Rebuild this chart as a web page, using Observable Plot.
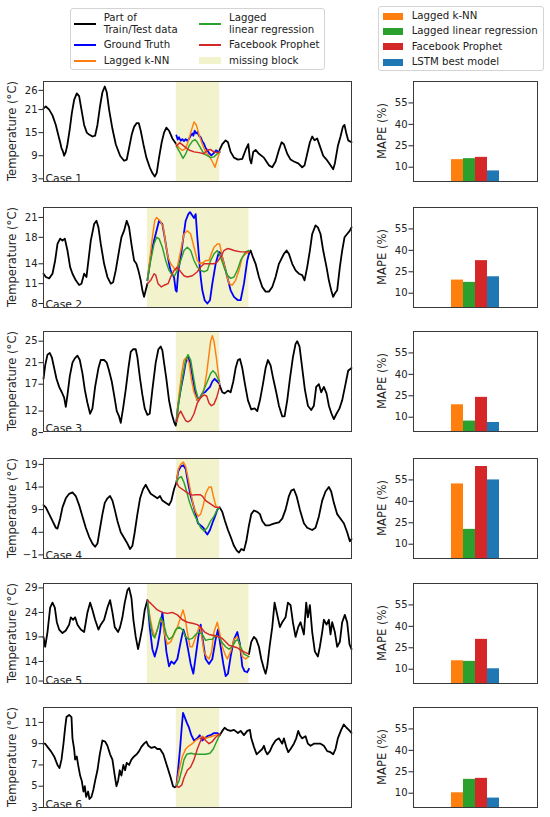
<!DOCTYPE html>
<html>
<head>
<meta charset="utf-8">
<script src="https://cdn.jsdelivr.net/npm/d3@7"></script>
<script src="https://cdn.jsdelivr.net/npm/@observablehq/plot@0.6"></script>
<style>
  html, body { margin: 0; padding: 0; background: #fff; }
  #root { position: relative; width: 550px; height: 817px; font-family: "DejaVu Sans", sans-serif; color: #222; overflow: hidden; }
  .legend { position: absolute; border: 1px solid #d4d4d4; border-radius: 3px; background: #fff; box-sizing: border-box; }
  .entry { position: absolute; font-size: 10.2px; line-height: 12.3px; white-space: pre; color: #222; }
  .sw { position: absolute; }
  .ylab { position: absolute; font-size: 11.6px; white-space: nowrap; color: #222; transform: translate(-50%, -50%) rotate(-90deg); line-height: 1; }
</style>
</head>
<body>
<div id="root"></div>
<script>
// ---------- categories / labels ----------
const models = ["Lagged k-NN", "Lagged linear regression", "Facebook Prophet", "LSTM best model"];
const barColors = ["#ff7f0e", "#2ca02c", "#d62728", "#1f77b4"];
const lineLabels = ["Part of\nTrain/Test data", "Ground Truth", "Lagged k-NN", "Lagged\nlinear regression", "Facebook Prophet", "missing block"];
const lineColors = ["#000000", "#0000ff", "#ff7f0e", "#2ca02c", "#d62728", "#f2f2cc"];
const caseNames = ["Case 1", "Case 2", "Case 3", "Case 4", "Case 5", "Case 6"];
const tempLabel = "Temperature (°C)";
const mapeLabel = "MAPE (%)";

// ---------- MAPE (%) per case: k-NN, linear, Prophet, LSTM ----------
const case1Mape = [15.3, 16.0, 16.9, 7.4];
const case2Mape = [19.2, 17.6, 32.8, 21.5];
const case3Mape = [18.7, 7.3, 23.9, 6.3];
const case4Mape = [52.2, 20.4, 64.4, 55.0];
const case5Mape = [15.9, 15.5, 30.9, 10.3];
const case6Mape = [10.3, 19.7, 20.4, 6.6];
const mapeTicks = [10, 25, 40, 55];
const mapeDomain = [0, 70];

// ---------- temperature axes ----------
const case1Ticks = [3, 9, 15, 21, 26];   const case1Domain = [2.3, 28.3];
const case2Ticks = [8, 11, 14, 18, 21];  const case2Domain = [7.4, 22.5];
const case3Ticks = [8, 12, 17, 21, 25];  const case3Domain = [8.2, 26.8];
const case4Ticks = [-1, 4, 9, 14, 19];   const case4Domain = [-1.8, 20.3];
const case5Ticks = [10, 14, 19, 24, 29]; const case5Domain = [9.5, 29.9];
const case6Ticks = [3, 5, 7, 9, 11];     const case6Domain = [3.0, 12.4];

// ---------- missing blocks (time steps) ----------
const case1Block = [399, 529];
const case2Block = [312, 617];
const case3Block = [399, 529];
const case4Block = [399, 529];
const case5Block = [312, 617];
const case6Block = [399, 529];

// ---------- Case 1 ----------
const case1Before = [[0,21.3],[7,21.8],[17,21.0],[27,19.5],[37,17.0],[44,14.5],[50,12.5],[54,11.0],[58,10.2],[62,9.0],[67,10.0],[72,12.0],[79,16.0],[85,20.0],[92,23.5],[100,25.2],[107,24.5],[114,21.0],[122,17.0],[130,15.0],[137,14.5],[147,14.0],[155,14.2],[162,17.0],[170,22.0],[177,25.5],[184,27.0],[190,25.5],[197,21.0],[207,16.0],[217,12.0],[230,9.0],[242,7.7],[250,8.0],[257,11.0],[265,14.5],[272,16.5],[280,17.5],[286,17.5],[292,15.5],[300,12.0],[309,8.5],[319,6.0],[327,4.5],[334,3.6],[340,4.5],[347,8.5],[355,12.5],[362,15.0],[369,16.3],[377,15.5],[387,13.5],[399,12.0]];
const case1After = [[529,10.5],[537,12.0],[547,13.0],[554,12.5],[562,10.0],[572,8.5],[584,8.0],[597,8.2],[607,10.5],[615,12.0],[620,8.0],[624,7.0],[630,10.0],[637,10.5],[647,9.5],[662,8.5],[677,6.5],[687,6.0],[697,7.5],[707,10.5],[715,12.5],[722,12.0],[732,9.5],[742,8.0],[752,7.5],[765,7.0],[777,6.0],[784,6.5],[792,9.5],[800,12.5],[807,14.0],[814,13.0],[822,13.5],[830,11.5],[840,9.0],[850,8.0],[862,6.5],[870,5.5],[875,7.0],[884,11.5],[892,14.0],[899,16.5],[904,17.0],[909,15.0],[915,13.0],[925,12.5]];
const case1Truth = [[399,14.3],[403,13.2],[407,13.8],[412,12.9],[417,13.3],[422,12.8],[427,13.3],[432,12.9],[437,13.4],[442,14.2],[447,14.8],[450,14.2],[454,15.5],[458,14.8],[462,15.1],[467,14.2],[472,13.8],[477,12.8],[482,12.1],[487,11.0],[492,10.4],[498,9.6],[504,9.1],[509,9.5],[514,9.9],[518,10.4],[522,10.2],[529,10.0]];
const case1Knn = [[399,12.1],[408,11.0],[417,10.4],[425,10.8],[432,12.0],[442,15.0],[452,17.8],[459,17.0],[467,14.5],[477,12.0],[487,10.0],[497,9.0],[507,7.5],[515,6.0],[522,8.0],[529,10.0]];
const case1Lin = [[399,11.5],[412,9.5],[419,8.3],[427,9.5],[437,11.5],[447,12.8],[455,13.2],[462,12.5],[472,11.0],[482,9.5],[492,9.0],[502,8.5],[512,8.7],[522,9.5],[529,10.0]];
const case1Prophet = [[399,11.5],[409,12.4],[422,11.5],[437,10.5],[452,10.0],[467,9.8],[482,9.5],[492,10.5],[502,10.6],[512,10.0],[522,9.8],[529,10.0]];

// ---------- Case 2 ----------
const case2Before = [[0,12.5],[7,12.0],[17,11.8],[27,12.5],[35,14.5],[42,17.0],[50,17.8],[57,17.5],[64,17.8],[72,16.0],[80,13.5],[87,12.5],[97,11.5],[107,10.8],[114,11.0],[122,12.5],[129,12.0],[135,14.5],[142,17.5],[152,20.0],[159,20.5],[165,19.5],[172,17.0],[182,14.0],[192,12.0],[202,11.0],[209,11.2],[217,13.0],[227,16.0],[234,18.0],[242,19.0],[250,20.5],[257,19.5],[264,17.0],[272,14.5],[279,14.0],[285,13.0],[292,11.5],[297,10.0],[302,9.0],[307,10.0],[312,11.0]];
const case2After = [[617,15.5],[622,16.0],[629,15.0],[637,14.0],[647,12.0],[657,10.5],[667,9.8],[677,9.8],[687,10.5],[697,12.0],[707,14.0],[722,15.5],[730,16.0],[737,15.5],[747,14.0],[757,13.0],[767,12.5],[777,12.3],[784,11.5],[792,13.5],[800,16.0],[807,18.5],[817,19.8],[824,19.5],[832,18.5],[840,16.0],[850,13.5],[857,11.5],[864,10.0],[870,9.0],[875,9.5],[882,10.0],[890,13.5],[897,16.0],[904,18.0],[912,18.5],[920,19.0],[925,19.5]];
const case2Truth = [[312,11.5],[319,14.0],[327,16.5],[337,18.5],[347,20.5],[357,20.0],[364,18.0],[372,15.5],[379,13.5],[385,12.5],[392,12.0],[397,10.0],[400,9.8],[405,13.0],[412,15.0],[420,18.0],[427,20.5],[435,21.5],[440,21.8],[447,21.3],[452,20.9],[457,21.5],[462,18.0],[467,15.0],[472,12.0],[477,10.0],[484,8.5],[492,8.0],[500,8.5],[507,11.0],[517,14.0],[527,15.8],[534,15.5],[542,14.0],[552,12.0],[562,10.0],[572,9.0],[584,8.5],[592,8.5],[602,11.0],[612,14.5],[617,15.5]];
const case2Knn = [[312,11.5],[320,15.0],[327,18.0],[334,20.5],[340,21.0],[350,20.5],[360,19.5],[367,17.0],[374,15.0],[382,14.0],[390,13.5],[397,13.0],[402,13.5],[412,16.0],[422,18.5],[432,19.0],[442,18.5],[452,16.5],[462,14.5],[470,14.0],[480,14.2],[487,14.5],[497,14.5],[504,15.5],[512,16.5],[522,17.0],[529,17.0],[537,15.0],[547,13.0],[557,11.0],[567,10.8],[577,11.5],[587,13.0],[597,15.0],[607,15.5],[617,15.8]];
const case2Lin = [[312,11.5],[322,14.5],[332,17.0],[340,18.0],[347,17.8],[357,16.5],[367,14.5],[377,13.0],[387,12.3],[394,12.2],[402,13.0],[412,14.5],[422,16.0],[432,16.5],[442,16.0],[452,14.5],[462,13.5],[472,13.0],[482,12.8],[492,13.0],[502,14.5],[512,15.5],[522,16.0],[532,15.0],[542,13.5],[552,12.3],[562,11.8],[572,12.0],[582,13.0],[592,14.5],[607,15.8],[617,16.0]];
const case2Prophet = [[312,11.0],[322,11.5],[332,12.5],[337,12.3],[344,11.0],[354,10.5],[364,10.8],[374,11.0],[382,12.0],[392,13.0],[402,13.5],[412,12.8],[422,12.2],[432,12.0],[447,12.2],[462,12.8],[472,13.5],[482,14.0],[497,14.0],[512,14.0],[522,14.3],[532,15.0],[542,16.0],[552,16.3],[562,16.2],[572,16.0],[592,15.8],[617,15.8]];

// ---------- Case 3 ----------
const case3Before = [[0,18.0],[5,20.5],[12,22.5],[19,22.8],[25,22.0],[32,20.0],[39,18.0],[47,16.5],[55,15.5],[62,14.5],[67,12.8],[72,15.0],[79,18.5],[87,21.0],[94,21.8],[102,22.3],[109,21.5],[117,19.0],[124,16.0],[132,13.5],[140,11.5],[147,12.5],[155,16.5],[165,20.0],[172,21.5],[182,21.5],[190,21.0],[197,19.5],[205,17.5],[212,15.0],[220,12.0],[227,11.0],[232,9.8],[239,12.5],[247,16.0],[255,20.0],[262,23.0],[269,23.5],[277,23.5],[282,22.0],[290,18.0],[297,15.0],[304,12.5],[312,11.3],[319,11.5],[327,16.0],[337,21.0],[345,23.5],[352,24.0],[357,23.3],[362,21.0],[369,18.0],[377,14.0],[385,11.5],[392,10.0],[397,9.3],[399,10.0]];
const case3After = [[529,16.8],[537,15.5],[544,15.3],[554,15.8],[562,15.5],[570,17.5],[577,20.0],[584,21.5],[590,21.7],[597,20.0],[605,17.0],[614,14.0],[624,12.3],[634,12.5],[642,12.0],[650,14.0],[659,17.0],[667,20.0],[674,21.5],[682,20.5],[690,18.0],[699,15.5],[707,13.0],[717,11.0],[724,11.0],[732,14.0],[740,18.0],[749,22.0],[757,24.5],[762,25.0],[769,24.0],[777,20.0],[785,16.0],[794,13.0],[804,12.2],[812,13.0],[819,16.5],[827,17.0],[834,15.5],[842,16.5],[850,15.3],[857,13.0],[865,11.5],[872,10.5],[880,11.5],[889,12.5],[897,14.0],[907,17.0],[915,19.5],[925,20.0]];
const case3Truth = [[399,10.0],[404,13.0],[412,16.0],[420,18.5],[427,21.0],[434,22.0],[440,21.0],[447,18.5],[454,16.0],[462,14.0],[470,14.5],[477,15.3],[485,15.5],[492,16.0],[500,16.5],[507,17.5],[514,18.0],[522,17.5],[529,17.0]];
const case3Knn = [[399,10.0],[407,15.0],[415,19.0],[422,21.5],[430,22.0],[437,21.0],[444,18.0],[452,15.5],[462,14.0],[472,14.5],[482,16.0],[490,19.0],[497,22.5],[502,25.0],[507,26.0],[512,25.0],[519,22.0],[524,19.5],[529,17.0]];
const case3Lin = [[399,10.0],[407,14.0],[417,18.0],[427,21.5],[434,22.5],[442,21.5],[450,18.5],[457,16.0],[464,14.5],[472,14.5],[482,16.0],[492,17.5],[502,19.0],[509,19.5],[517,19.0],[524,18.0],[529,17.5]];
const case3Prophet = [[399,10.0],[407,11.5],[412,12.0],[420,11.0],[427,10.2],[434,10.0],[442,10.3],[452,11.5],[462,13.5],[472,14.5],[482,15.0],[490,14.8],[497,13.5],[504,13.0],[512,13.3],[520,14.5],[529,16.5]];

// ---------- Case 4 ----------
const case4Before = [[0,10.0],[7,9.5],[17,8.0],[27,6.5],[37,5.0],[42,4.8],[50,7.0],[57,9.5],[67,11.5],[77,12.5],[87,12.8],[97,12.0],[107,10.0],[117,7.5],[127,5.0],[137,3.0],[147,1.5],[155,0.8],[162,1.5],[170,5.0],[177,8.0],[184,10.5],[192,11.5],[200,12.0],[207,11.0],[214,9.0],[222,6.5],[232,4.0],[244,2.5],[252,1.5],[260,0.3],[267,1.0],[274,4.0],[282,8.0],[290,11.5],[299,13.5],[307,14.5],[314,13.5],[322,12.5],[332,12.0],[342,11.5],[350,12.0],[357,11.0],[367,10.5],[377,10.0],[384,11.0],[392,13.5],[399,15.0]];
const case4After = [[529,9.5],[537,8.5],[545,6.5],[554,4.5],[562,3.0],[572,1.0],[580,0.0],[587,-0.5],[594,0.3],[602,0.0],[609,2.0],[617,5.5],[624,8.0],[632,8.8],[642,8.5],[650,8.0],[657,6.5],[667,5.5],[677,5.5],[687,5.8],[697,6.0],[707,6.2],[717,7.0],[727,9.0],[737,12.0],[744,13.2],[752,13.5],[760,12.0],[770,9.0],[782,6.0],[792,5.0],[807,4.5],[817,5.0],[827,7.5],[837,11.0],[847,13.0],[857,14.0],[864,13.0],[872,10.5],[882,8.0],[892,7.0],[902,6.0],[912,4.0],[920,2.0],[925,2.5]];
const case4Truth = [[399,15.0],[405,17.5],[412,18.5],[420,18.8],[427,18.0],[434,15.0],[442,12.0],[450,10.0],[457,8.0],[464,6.0],[472,5.5],[480,5.0],[487,4.0],[492,3.5],[500,4.5],[507,6.0],[515,7.5],[522,9.0],[529,9.5]];
const case4Knn = [[399,15.0],[405,18.0],[412,19.0],[420,19.5],[427,18.5],[434,16.0],[442,13.0],[450,10.0],[457,8.5],[464,7.5],[472,8.0],[480,10.0],[487,12.5],[497,14.0],[504,14.0],[510,12.0],[517,10.0],[522,9.5],[529,9.5]];
const case4Lin = [[399,15.0],[407,16.0],[414,16.3],[422,15.0],[430,13.0],[437,11.0],[444,9.5],[452,8.0],[462,6.5],[472,5.0],[482,4.3],[492,5.0],[502,6.5],[512,7.5],[522,9.0],[529,9.5]];
const case4Prophet = [[399,15.0],[407,14.0],[417,13.5],[427,13.0],[437,12.5],[447,12.2],[457,12.3],[470,12.3],[477,12.0],[487,11.0],[497,10.5],[507,10.0],[517,9.5],[529,9.5]];

// ---------- Case 5 ----------
const case5Before = [[0,19.0],[5,17.0],[12,20.0],[20,25.0],[27,26.0],[34,25.0],[40,22.0],[47,20.5],[57,19.8],[67,20.3],[77,21.5],[82,23.0],[89,22.5],[95,23.0],[102,21.5],[112,20.5],[122,20.0],[132,24.0],[140,26.0],[147,24.5],[155,22.5],[165,20.5],[172,21.5],[182,22.5],[192,25.0],[200,26.5],[207,24.0],[214,21.0],[224,20.0],[230,21.0],[237,23.0],[244,26.0],[252,28.5],[257,29.0],[264,27.0],[270,22.5],[277,19.0],[284,16.5],[290,18.5],[297,21.0],[304,24.5],[312,26.5]];
const case5After = [[617,15.5],[624,18.0],[632,19.0],[639,18.5],[647,17.0],[654,14.5],[662,12.5],[667,11.5],[672,13.0],[679,17.0],[687,21.0],[694,26.0],[702,23.5],[710,21.0],[717,22.0],[727,23.0],[734,26.0],[742,25.5],[749,22.0],[757,19.0],[765,21.0],[772,22.0],[782,19.5],[789,26.0],[794,23.0],[800,25.5],[807,20.0],[815,16.0],[824,15.0],[830,17.0],[837,20.0],[842,22.5],[850,21.5],[857,22.5],[862,19.5],[867,22.0],[875,20.0],[882,17.0],[890,18.0],[897,22.0],[905,23.5],[912,22.0],[919,17.5],[925,16.5]];
const case5Truth = [[312,26.5],[319,21.0],[327,16.5],[334,15.0],[342,17.0],[350,20.0],[357,24.0],[362,21.0],[369,16.0],[377,13.0],[384,14.0],[392,13.5],[402,14.5],[412,18.0],[420,20.5],[427,19.0],[434,16.5],[442,13.5],[450,11.5],[457,15.0],[465,19.0],[472,21.5],[479,18.0],[487,14.5],[497,13.5],[507,14.5],[517,18.5],[524,20.5],[532,17.0],[540,13.5],[547,11.0],[554,11.5],[562,15.0],[572,18.5],[582,20.0],[590,17.5],[597,13.0],[604,12.0],[612,11.8],[617,12.5]];
const case5Knn = [[312,26.5],[320,23.0],[327,20.5],[334,19.0],[342,20.5],[350,22.5],[357,22.0],[364,19.5],[372,17.5],[382,18.0],[392,19.5],[402,21.0],[412,23.0],[419,24.5],[425,23.0],[432,20.0],[440,17.0],[447,17.0],[457,19.0],[467,21.0],[472,20.5],[482,16.0],[490,15.0],[497,14.5],[505,16.0],[512,20.0],[522,22.0],[530,19.5],[537,17.0],[545,15.5],[552,14.5],[562,16.0],[572,18.5],[582,19.0],[590,17.0],[597,15.0],[607,14.5],[617,15.0]];
const case5Lin = [[312,26.5],[320,22.0],[327,19.5],[334,18.8],[342,20.5],[352,23.0],[360,22.0],[369,19.5],[377,18.5],[387,19.0],[397,20.5],[407,21.0],[417,20.5],[427,19.0],[437,18.5],[447,18.7],[457,19.5],[467,20.0],[477,19.5],[487,18.3],[497,18.5],[507,18.5],[517,19.3],[527,19.0],[537,17.8],[547,17.0],[557,16.5],[567,17.0],[577,18.2],[584,18.5],[592,17.0],[602,15.5],[617,15.0]];
const case5Prophet = [[312,26.5],[327,25.5],[342,24.5],[357,24.0],[372,23.8],[387,24.0],[402,23.5],[417,22.5],[432,22.0],[447,21.8],[462,21.5],[472,21.0],[484,20.0],[497,19.5],[512,19.3],[527,19.0],[537,18.7],[547,18.0],[557,17.3],[572,17.0],[582,16.8],[592,16.3],[607,15.8],[617,15.5]];

// ---------- Case 6 ----------
const case6Before = [[0,9.0],[5,9.0],[12,8.7],[22,8.3],[32,7.8],[42,7.0],[48,6.7],[54,7.5],[60,9.0],[65,10.5],[69,11.5],[77,11.7],[84,11.5],[87,9.5],[92,8.5],[95,7.5],[100,7.8],[104,7.0],[110,6.0],[115,5.5],[120,4.5],[124,5.0],[128,4.0],[134,4.5],[138,3.8],[144,4.0],[150,4.7],[155,5.5],[162,6.5],[169,8.0],[177,9.3],[185,9.2],[192,8.8],[200,8.0],[207,7.5],[214,6.0],[219,5.0],[224,5.5],[229,6.5],[234,6.0],[240,7.0],[245,6.5],[250,7.2],[257,7.0],[264,7.5],[272,7.8],[280,8.0],[287,8.3],[294,8.7],[302,9.0],[309,9.2],[315,8.8],[324,8.6],[334,8.7],[342,8.5],[350,8.5],[360,8.0],[367,7.3],[375,6.5],[382,5.8],[389,5.0],[394,4.9],[399,5.0]];
const case6After = [[529,9.8],[537,10.2],[544,10.5],[552,10.3],[562,10.2],[572,10.3],[584,10.0],[592,10.2],[602,9.8],[612,10.2],[620,10.3],[624,9.5],[632,8.7],[640,8.0],[647,8.2],[657,8.5],[662,8.8],[667,8.3],[672,8.0],[680,8.3],[687,8.8],[697,9.3],[707,9.5],[717,9.0],[722,9.5],[729,8.7],[735,8.2],[742,8.5],[752,9.0],[759,9.5],[765,10.2],[770,9.8],[777,9.5],[787,9.7],[794,9.0],[802,8.8],[812,9.0],[822,9.0],[832,9.0],[842,8.8],[852,8.3],[862,8.2],[870,8.0],[877,8.5],[884,9.5],[894,10.3],[902,10.8],[910,10.5],[917,10.3],[925,10.0]];
const case6Truth = [[399,5.0],[404,6.5],[410,8.5],[415,10.5],[419,11.9],[424,11.5],[430,11.0],[437,10.5],[444,9.8],[452,9.3],[462,9.5],[469,9.8],[477,9.3],[484,9.5],[492,9.7],[502,9.8],[512,10.0],[522,10.0],[529,9.8]];
const case6Knn = [[399,5.0],[407,6.5],[417,7.8],[427,8.5],[437,8.8],[447,9.0],[457,9.3],[467,9.5],[477,9.7],[487,9.5],[497,9.6],[507,9.7],[517,9.8],[529,9.9]];
const case6Lin = [[399,5.0],[407,5.5],[415,6.5],[422,7.5],[430,8.0],[442,8.1],[457,8.0],[472,8.0],[487,8.0],[500,8.1],[510,8.5],[520,9.2],[529,9.8]];
const case6Prophet = [[399,5.0],[407,4.9],[415,5.1],[422,5.8],[432,6.5],[442,6.8],[452,7.5],[462,8.5],[472,9.3],[479,9.6],[487,9.3],[497,9.0],[507,9.2],[517,9.6],[529,9.9]];

const timeDomain = [0, 925];

// ---------- assemble ----------
const cases = [
  {before: case1Before, after: case1After, truth: case1Truth, knn: case1Knn, lin: case1Lin, prophet: case1Prophet, block: case1Block, domain: case1Domain, ticks: case1Ticks, mape: case1Mape},
  {before: case2Before, after: case2After, truth: case2Truth, knn: case2Knn, lin: case2Lin, prophet: case2Prophet, block: case2Block, domain: case2Domain, ticks: case2Ticks, mape: case2Mape},
  {before: case3Before, after: case3After, truth: case3Truth, knn: case3Knn, lin: case3Lin, prophet: case3Prophet, block: case3Block, domain: case3Domain, ticks: case3Ticks, mape: case3Mape},
  {before: case4Before, after: case4After, truth: case4Truth, knn: case4Knn, lin: case4Lin, prophet: case4Prophet, block: case4Block, domain: case4Domain, ticks: case4Ticks, mape: case4Mape},
  {before: case5Before, after: case5After, truth: case5Truth, knn: case5Knn, lin: case5Lin, prophet: case5Prophet, block: case5Block, domain: case5Domain, ticks: case5Ticks, mape: case5Mape},
  {before: case6Before, after: case6After, truth: case6Truth, knn: case6Knn, lin: case6Lin, prophet: case6Prophet, block: case6Block, domain: case6Domain, ticks: case6Ticks, mape: case6Mape}
];

const root = document.getElementById("root");
const panelTops = [81.3, 206.7, 330.5, 458.3, 583.3, 707.3];
const panelH = 100;
const pad = 5;
const fontStyle = {fontFamily: "DejaVu Sans, sans-serif", fontSize: "10px", color: "#222", background: "transparent", overflow: "visible"};
const X = d => d[0], Y = d => d[1];

function place(el, left, top) {
  el.style.position = "absolute";
  el.style.left = left + "px";
  el.style.top = top + "px";
  root.appendChild(el);
}
function yLabel(text, cx, cy) {
  const d = document.createElement("div");
  d.className = "ylab";
  d.textContent = text;
  d.style.left = cx + "px";
  d.style.top = cy + "px";
  root.appendChild(d);
}

cases.forEach((c, i) => {
  const lw = 1.45;
  const left = Plot.plot({
    width: 360, height: panelH + 2 * pad,
    marginLeft: 43, marginRight: 9, marginTop: pad, marginBottom: pad,
    style: fontStyle,
    x: {domain: timeDomain, axis: null},
    y: {domain: c.domain, ticks: c.ticks, tickSize: 4.5, tickPadding: 1.5, label: null},
    marks: [
      Plot.rect([c.block], {x1: d => d[0], x2: d => d[1], fill: lineColors[5]}),
      Plot.line(c.before, {x: X, y: Y, stroke: lineColors[0], strokeWidth: 1.8}),
      Plot.line(c.after, {x: X, y: Y, stroke: lineColors[0], strokeWidth: 1.8}),
      Plot.line(c.truth, {x: X, y: Y, stroke: lineColors[1], strokeWidth: 1.8}),
      Plot.line(c.knn, {x: X, y: Y, stroke: lineColors[2], strokeWidth: lw}),
      Plot.line(c.lin, {x: X, y: Y, stroke: lineColors[3], strokeWidth: lw}),
      Plot.line(c.prophet, {x: X, y: Y, stroke: lineColors[4], strokeWidth: lw}),
      Plot.text([caseNames[i]], {frameAnchor: "bottom-left", dx: 2, dy: 0, fontSize: 10.8, fill: "#222"}),
      Plot.frame({stroke: "#3a3a3a", strokeWidth: 1})
    ]
  });
  place(left, 0, panelTops[i] - pad);
  yLabel(tempLabel, 12.5, panelTops[i] + panelH / 2);

  const bars = models.map((m, k) => ({model: m, value: c.mape[k]}));
  const right = Plot.plot({
    width: 190, height: panelH + 2 * pad,
    marginLeft: 53, marginRight: 13, marginTop: pad, marginBottom: pad,
    style: fontStyle,
    x: {domain: models, paddingInner: 0, paddingOuter: 2.83, axis: null},
    y: {domain: mapeDomain, ticks: mapeTicks, tickSize: 4.5, tickPadding: 1.5, label: null},
    color: {domain: models, range: barColors},
    marks: [
      Plot.barY(bars, {x: "model", y: "value", fill: "model"}),
      Plot.frame({stroke: "#3a3a3a", strokeWidth: 1})
    ]
  });
  place(right, 360, panelTops[i] - pad);
  yLabel(mapeLabel, 382.5, panelTops[i] + panelH / 2);
});

// ---------- legends ----------
function legendBox(left, top, w, h) {
  const d = document.createElement("div");
  d.className = "legend";
  d.style.left = left + "px"; d.style.top = top + "px";
  d.style.width = w + "px"; d.style.height = h + "px";
  root.appendChild(d);
  return d;
}
function addEntry(box, swX, swW, swH, textX, cy, color, label) {
  const sw = document.createElement("div");
  sw.className = "sw";
  sw.style.left = swX + "px";
  sw.style.width = swW + "px";
  sw.style.height = swH + "px";
  sw.style.top = (cy - swH / 2) + "px";
  sw.style.background = color;
  box.appendChild(sw);
  const t = document.createElement("div");
  t.className = "entry";
  t.textContent = label;
  box.appendChild(t);
  const lines = label.split("\n").length;
  t.style.left = textX + "px";
  t.style.top = (cy - lines * 12.3 / 2) + "px";
}
// left legend: two columns
const lbox = legendBox(70, 8.3, 255, 62);
const lRows = [14.6, 35.4, 51.7];
[0, 1, 2].forEach(r => addEntry(lbox, 2.7, 22.3, 1.8, 32.7, lRows[r], lineColors[r], lineLabels[r]));
[3, 4].forEach((k, r) => addEntry(lbox, 128, 22.3, 1.8, 158, lRows[r], lineColors[k], lineLabels[k]));
addEntry(lbox, 128, 22.3, 7, 158, lRows[2], lineColors[5], lineLabels[5]);

// right legend: bar models
const rbox = legendBox(378.3, 6, 166, 65);
const rRows = [9, 24.5, 39.7, 55];
models.forEach((m, k) => addEntry(rbox, 4, 20, 7, 32.4, rRows[k], barColors[k], m));
</script>
</body>
</html>
